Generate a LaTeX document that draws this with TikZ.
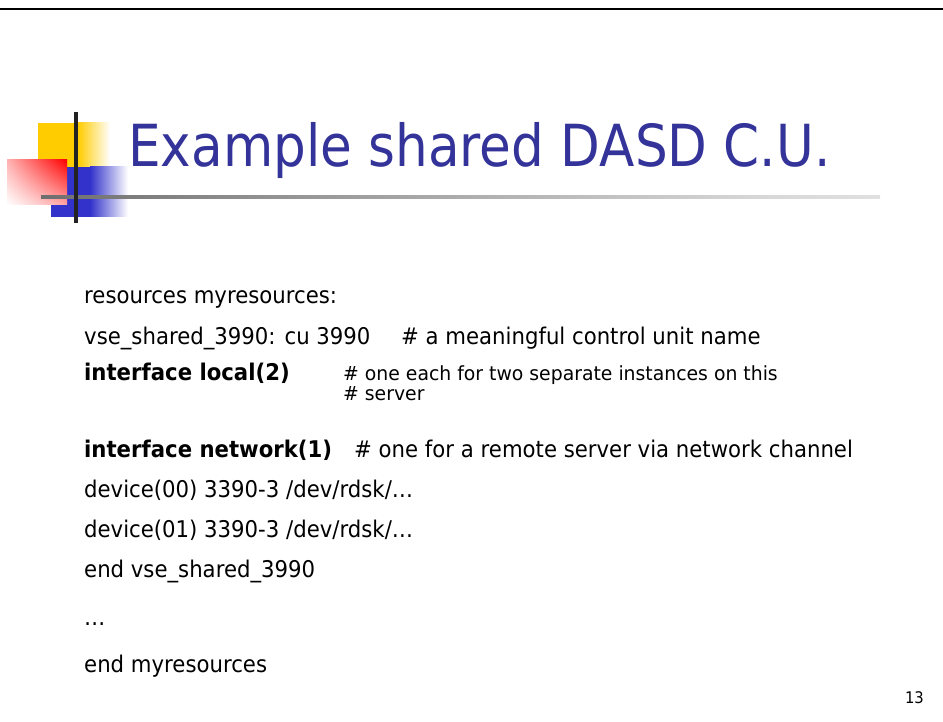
\documentclass[tikz,border=0pt]{standalone}
\usepackage{fontspec}
\setmainfont{DejaVu Sans}[FakeStretch=0.923]
\newfontfamily\notefont{DejaVu Sans}[FakeStretch=0.965]
\newfontfamily\titlefont{DejaVu Sans}[FakeStretch=0.89]
\usetikzlibrary{shadings}
\definecolor{titleblue}{HTML}{333399}
\definecolor{logoyellow}{HTML}{FFCC00}
\definecolor{logoblue}{HTML}{3333CC}
\definecolor{logored}{HTML}{FF0000}
\definecolor{rulegray}{HTML}{222222}
\pgfdeclarehorizontalshading{rulefade}{100bp}{%
  color(0bp)=(rulegray); color(8bp)=(rulegray!85!white);
  color(38bp)=(rulegray!50!white); color(68bp)=(rulegray!18!white);
  color(100bp)=(white)}
\tikzset{
  body/.style={anchor=base west, inner sep=0pt, font=\fontsize{23}{27}\selectfont},
  bodybold/.style={body, font=\fontsize{23}{27}\selectfont\bfseries},
  note/.style={anchor=base west, inner sep=0pt, font=\notefont\fontsize{19.5}{23}\selectfont},
  pagenum/.style={anchor=base east, inner sep=0pt, font=\fontsize{16}{19}\selectfont},
}
\begin{document}
\begin{tikzpicture}[x=1pt,y=-1pt]
  \useasboundingbox[fill=white] (0,0) rectangle (943,722);
  % top rule of the slide
  \draw[line width=2.6pt, black] (0,9) -- (943,9);

  % logo: coloured squares
  \fill[logoyellow] (38,123) rectangle (78,167);
  \shade[left color=logoyellow, right color=white] (78,123) rectangle (110,167);
  \fill[logoblue] (51,167) rectangle (90,217);
  \shade[left color=logoblue, right color=white] (90,167) rectangle (128,217);
  \shade[upper right=logored, lower left=white,
         upper left=logored!30!white, lower right=logored!35!white]
        (7,160) rectangle (67,205);
  % logo: cross lines
  \shade[shading=rulefade] (41,195.2) rectangle (880,198.8);
  \fill[rulegray] (74,112) rectangle (78,223);

  % title
  \node[anchor=base west, inner sep=0pt, text=titleblue,
        font=\titlefont\fontsize{58}{64}\selectfont] (title) at (128,167)
        {Example shared DASD C.U.};

  % body lines
  \node[body] (l1) at (84,304) {resources myresources:};
  \node[body] (l2) at (84,344) {vse\_shared\_3990: cu 3990};
  \node[body] (l2c) at (401,344) {\# a meaningful control unit name};
  \node[bodybold] (l3) at (84,380) {interface local(2)};
  \node[note] (l3c) at (343,380) {\# one each for two separate instances on this};
  \node[note] (l3d) at (343,400) {\# server};
  \node[bodybold] (l4) at (84,457) {interface network(1)};
  \node[body] (l4c) at (354,457) {\# one for a remote server via network channel};
  \node[body] (l5) at (84,497) {device(00) 3390-3 /dev/rdsk/\dots};
  \node[body] (l6) at (84,537) {device(01) 3390-3 /dev/rdsk/\dots};
  \node[body] (l7) at (84,577) {end vse\_shared\_3990};
  \node[body] (l8) at (84,625) {\dots};
  \node[body] (l9) at (84,672) {end myresources};

  % page number
  \node[pagenum] (pg) at (924,703) {13};
\end{tikzpicture}
\end{document}
